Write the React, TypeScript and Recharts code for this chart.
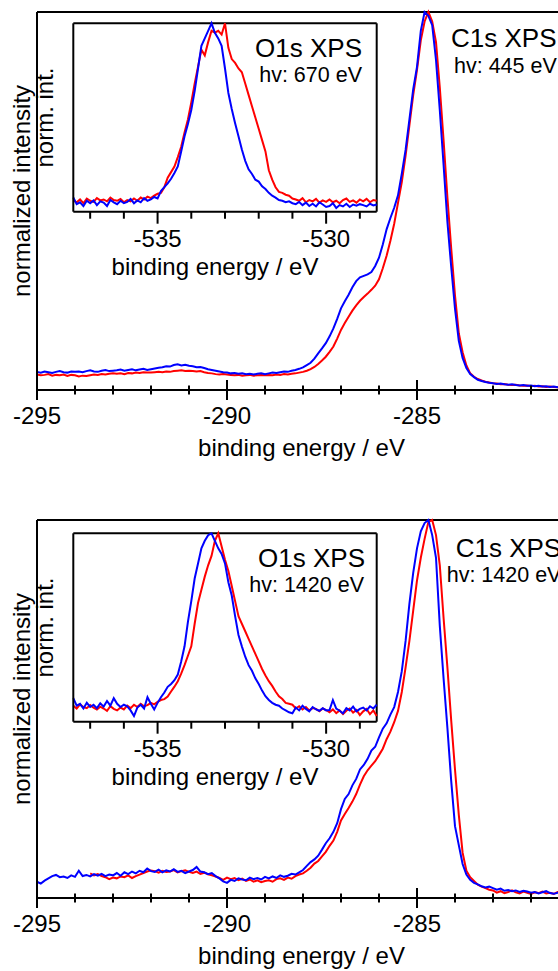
import React from "react";
import { LineChart, Line, XAxis, YAxis, ReferenceLine } from "recharts";

// C1s spectra, sampled every 0.1 eV starting at -295 eV
const C1S_START = -295;
const C1S_STEP = 0.1;
const C1S_TICKS = [-295, -294, -293, -292, -291, -290, -289, -288, -287, -286, -285, -284, -283, -282, -281];

const c1sTopRed = [
  0.041, 0.039, 0.040, 0.042, 0.038, 0.040, 0.039, 0.041, 0.037, 0.040, 0.039,
  0.036, 0.038, 0.037, 0.039, 0.041, 0.040, 0.042, 0.041, 0.043, 0.044,
  0.043, 0.044, 0.042, 0.045, 0.044, 0.046, 0.045, 0.047, 0.046, 0.046,
  0.047, 0.048, 0.047, 0.049, 0.048, 0.050, 0.051, 0.052, 0.050, 0.051,
  0.050, 0.049, 0.050, 0.047, 0.045, 0.044, 0.042, 0.041, 0.042, 0.041,
  0.040, 0.039, 0.040, 0.038, 0.039, 0.040, 0.038, 0.039, 0.040, 0.039,
  0.040, 0.039, 0.041, 0.040, 0.042, 0.041, 0.043, 0.044, 0.046, 0.048,
  0.051, 0.055, 0.061, 0.069, 0.078, 0.088, 0.101, 0.115, 0.136, 0.159,
  0.177, 0.194, 0.210, 0.224, 0.236, 0.246, 0.255, 0.265, 0.276, 0.293,
  0.322, 0.355, 0.395, 0.440, 0.495, 0.550, 0.620, 0.700, 0.780, 0.847,
  0.925, 0.975, 1.000, 0.975, 0.920, 0.800, 0.660, 0.510, 0.375, 0.250,
  0.150, 0.100, 0.065, 0.044, 0.035, 0.029, 0.025, 0.022, 0.020, 0.018,
  0.017, 0.015, 0.016, 0.014, 0.013, 0.014, 0.012, 0.011, 0.012, 0.010,
  0.011, 0.009, 0.010, 0.008, 0.009, 0.008, 0.007, 0.009, 0.008, 0.007,
];

const c1sTopBlue = [
  0.048, 0.046, 0.049, 0.047, 0.045, 0.048, 0.050, 0.047, 0.046, 0.049, 0.048,
  0.049, 0.047, 0.050, 0.052, 0.049, 0.048, 0.051, 0.053, 0.050, 0.051,
  0.052, 0.054, 0.051, 0.053, 0.055, 0.052, 0.054, 0.056, 0.053, 0.055,
  0.057, 0.059, 0.060, 0.063, 0.062, 0.066, 0.068, 0.065, 0.067, 0.064,
  0.063, 0.060, 0.061, 0.058, 0.055, 0.053, 0.051, 0.049, 0.047, 0.046,
  0.044, 0.045, 0.043, 0.044, 0.042, 0.043, 0.041, 0.043, 0.044, 0.042,
  0.044, 0.046, 0.045, 0.047, 0.049, 0.048, 0.051, 0.053, 0.056, 0.060,
  0.066, 0.072, 0.083, 0.097, 0.110, 0.124, 0.142, 0.163, 0.188, 0.216,
  0.235, 0.252, 0.272, 0.288, 0.298, 0.302, 0.306, 0.312, 0.328, 0.350,
  0.385, 0.425, 0.455, 0.482, 0.515, 0.572, 0.635, 0.715, 0.795, 0.855,
  0.950, 1.000, 0.990, 0.965, 0.873, 0.740, 0.595, 0.445, 0.326, 0.215,
  0.130, 0.085, 0.058, 0.042, 0.034, 0.027, 0.024, 0.021, 0.019, 0.018,
  0.016, 0.017, 0.015, 0.014, 0.015, 0.013, 0.012, 0.013, 0.011, 0.012,
  0.010, 0.011, 0.009, 0.010, 0.008, 0.009, 0.007, 0.008, 0.007, 0.008,
];

const c1sBottomRed = [
  null, null, null, null, null, null, null, null, null, null, null,
  null, null, null, 0.065, 0.060, 0.063, 0.058, 0.055, 0.050, 0.054,
  0.052, 0.057, 0.055, 0.060, 0.053, 0.058, 0.062, 0.066, 0.070, 0.073,
  0.071, 0.067, 0.072, 0.069, 0.070, 0.074, 0.068, 0.071, 0.073, 0.069,
  0.066, 0.070, 0.064, 0.067, 0.063, 0.060, 0.057, 0.053, 0.048, 0.054,
  0.050, 0.053, 0.047, 0.051, 0.045, 0.049, 0.043, 0.047, 0.042, 0.045,
  0.047, 0.043, 0.050, 0.052, 0.048, 0.054, 0.051, 0.058, 0.062, 0.065,
  0.072, 0.080, 0.091, 0.098, 0.110, 0.122, 0.138, 0.152, 0.175, 0.205,
  0.222, 0.238, 0.255, 0.275, 0.300, 0.322, 0.338, 0.350, 0.362, 0.378,
  0.395, 0.420, 0.440, 0.465, 0.495, 0.545, 0.610, 0.680, 0.760, 0.840,
  0.900, 0.950, 0.995, 1.000, 0.960, 0.880, 0.740, 0.610, 0.470, 0.340,
  0.220, 0.120, 0.072, 0.055, 0.045, 0.035, 0.030, 0.026, 0.022, 0.020,
  0.014, 0.018, 0.013, 0.016, 0.020, 0.015, 0.012, 0.017, 0.014, 0.011,
  0.015, 0.013, 0.017, 0.012, 0.014, 0.011, 0.016, 0.013, 0.010, 0.014,
];

const c1sBottomBlue = [
  0.043, 0.038, 0.046, 0.052, 0.058, 0.061, 0.055, 0.057, 0.053, 0.060, 0.056,
  0.072, 0.058, 0.061, 0.057, 0.063, 0.059, 0.064, 0.058, 0.062, 0.060,
  0.066, 0.059, 0.068, 0.063, 0.070, 0.065, 0.072, 0.068, 0.078, 0.071,
  0.069, 0.075, 0.068, 0.073, 0.070, 0.076, 0.069, 0.072, 0.066, 0.070,
  0.074, 0.082, 0.070, 0.068, 0.063, 0.066, 0.058, 0.052, 0.044, 0.040,
  0.048, 0.045, 0.052, 0.049, 0.047, 0.054, 0.050, 0.053, 0.049, 0.056,
  0.052, 0.057, 0.053, 0.060, 0.056, 0.059, 0.064, 0.062, 0.068, 0.074,
  0.085, 0.095, 0.102, 0.112, 0.128, 0.145, 0.158, 0.175, 0.198, 0.235,
  0.262, 0.275, 0.298, 0.315, 0.340, 0.352, 0.368, 0.390, 0.400, 0.425,
  0.448, 0.462, 0.485, 0.505, 0.545, 0.600, 0.680, 0.778, 0.860, 0.925,
  0.970, 0.992, 1.000, 0.960, 0.900, 0.720, 0.580, 0.450, 0.310, 0.190,
  0.140, 0.090, 0.062, 0.048, 0.040, 0.036, 0.031, 0.028, 0.030, 0.026,
  0.022, 0.025, 0.019, 0.021, 0.018, 0.020, 0.016, 0.019, 0.017, 0.014,
  0.016, 0.012, 0.015, 0.018, 0.013, 0.011, 0.014, 0.012, 0.016, 0.013,
];

// O1s insets, sampled every 0.1 eV starting at -537.5 eV
const O1S_START = -537.5;
const O1S_STEP = 0.1;
const O1S_TICKS = [-537, -536, -535, -534, -533, -532, -531, -530, -529];

const o1sTopRed = [
  0.060, 0.050, 0.065, 0.045, 0.070, 0.058,
  0.052, 0.072, 0.060, 0.065, 0.055, 0.075, 0.062, 0.058, 0.068, 0.050,
  0.062, 0.055, 0.070, 0.058, 0.075, 0.065, 0.080, 0.072, 0.085, 0.095,
  0.100, 0.130, 0.180, 0.210, 0.240, 0.290, 0.345, 0.420, 0.490, 0.580,
  0.680, 0.770, 0.860, 0.830, 0.900, 0.960, 0.950, 0.960, 0.940, 1.000,
  0.870, 0.810, 0.790, 0.760, 0.740, 0.680, 0.620, 0.560, 0.500, 0.440,
  0.380, 0.320, 0.220, 0.170, 0.130, 0.105, 0.100, 0.090, 0.085, 0.070,
  0.065, 0.058, 0.072, 0.050, 0.062, 0.055, 0.068, 0.048, 0.060, 0.052,
  0.065, 0.050, 0.058, 0.045, 0.062, 0.070, 0.052, 0.060, 0.048, 0.065,
  0.055, 0.068, 0.050, 0.062, 0.058,
];

const o1sTopBlue = [
  0.075, 0.040, 0.050, 0.030, 0.058, 0.045,
  0.060, 0.035, 0.055, 0.048, 0.030, 0.062, 0.050, 0.040, 0.058, 0.045,
  0.052, 0.068, 0.045, 0.060, 0.050, 0.072, 0.058, 0.065, 0.078, 0.070,
  0.110, 0.130, 0.150, 0.175, 0.205, 0.240, 0.320, 0.400, 0.465, 0.540,
  0.640, 0.760, 0.880, 0.920, 0.960, 1.000, 0.950, 0.920, 0.880, 0.760,
  0.630, 0.545, 0.470, 0.400, 0.330, 0.270, 0.225, 0.200, 0.170, 0.160,
  0.135, 0.120, 0.100, 0.085, 0.075, 0.062, 0.058, 0.050, 0.055, 0.045,
  0.040, 0.052, 0.035, 0.048, 0.030, 0.042, 0.028, 0.050, 0.038, 0.025,
  0.030, 0.045, 0.020, 0.035, 0.028, 0.042, 0.025, 0.038, 0.032, 0.040,
  0.035, 0.028, 0.042, 0.033, 0.038,
];

const o1sBottomRed = [
  0.085, 0.070, 0.092, 0.078, 0.072, 0.088,
  0.075, 0.065, 0.080, 0.070, 0.058, 0.082, 0.068, 0.060, 0.075, 0.065,
  0.085, 0.072, 0.090, 0.078, 0.095, 0.082, 0.088, 0.100, 0.092, 0.105,
  0.115, 0.120, 0.133, 0.160, 0.186, 0.215, 0.255, 0.300, 0.350, 0.400,
  0.520, 0.630, 0.700, 0.770, 0.830, 0.880, 0.960, 1.000, 0.930, 0.860,
  0.800, 0.720, 0.640, 0.560, 0.520, 0.480, 0.440, 0.400, 0.360, 0.320,
  0.280, 0.245, 0.215, 0.190, 0.160, 0.135, 0.120, 0.100, 0.095, 0.090,
  0.070, 0.082, 0.065, 0.078, 0.060, 0.072, 0.068, 0.055, 0.070, 0.062,
  0.050, 0.065, 0.045, 0.060, 0.040, 0.058, 0.070, 0.048, 0.062, 0.035,
  0.055, 0.068, 0.040, 0.060, 0.030,
];

const o1sBottomBlue = [
  0.125, 0.085, 0.095, 0.070, 0.100, 0.078,
  0.090, 0.072, 0.098, 0.080, 0.110, 0.085, 0.125, 0.095, 0.078, 0.090,
  0.082, 0.060, 0.030, 0.075, 0.090, 0.070, 0.130, 0.095, 0.065, 0.100,
  0.130, 0.155, 0.185, 0.200, 0.220, 0.250, 0.320, 0.400, 0.530, 0.640,
  0.760, 0.840, 0.920, 0.960, 0.990, 1.000, 0.960, 0.920, 0.890, 0.840,
  0.740, 0.670, 0.560, 0.460, 0.400, 0.345, 0.300, 0.270, 0.230, 0.200,
  0.165, 0.135, 0.115, 0.100, 0.090, 0.085, 0.070, 0.060, 0.050, 0.045,
  0.075, 0.060, 0.085, 0.068, 0.055, 0.078, 0.065, 0.058, 0.072, 0.060,
  0.062, 0.115, 0.070, 0.058, 0.045, 0.072, 0.060, 0.080, 0.055, 0.068,
  0.075, 0.060, 0.082, 0.070, 0.090,
];

const RED = "#ff0000";
const BLUE = "#0000ff";
const FONT = "'Liberation Sans', Arial, sans-serif";

function toRows(start: number, step: number, red: (number | null)[], blue: number[]) {
  return blue.map((b, i) => ({ e: +(start + i * step).toFixed(2), red: red[i], blue: b }));
}

function MainTick(props: any) {
  const { x, y, payload } = props;
  const major = payload.value % 5 === 0;
  const h = major ? 10 : 4.5;
  return (
    <g>
      <line x1={x} x2={x} y1={y - h} y2={y + h} stroke="#000" strokeWidth={2} />
      {major && (
        <text x={x} y={y + 33.5} textAnchor="middle" fontSize={24} fontFamily={FONT} fill="#000">
          {payload.value}
        </text>
      )}
    </g>
  );
}

function InsetTick(props: any) {
  const { x, y, payload } = props;
  const major = payload.value % 5 === 0;
  return (
    <g>
      <line x1={x} x2={x} y1={y} y2={y + (major ? 12 : 7)} stroke="#000" strokeWidth={2} />
      {major && (
        <text x={x} y={y + 35.6} textAnchor="middle" fontSize={24} fontFamily={FONT} fill="#000">
          {payload.value}
        </text>
      )}
    </g>
  );
}

interface MainProps {
  red: (number | null)[];
  blue: number[];
  hv: string;
  titleX: number;
  titleY: number;
  hvX: number;
  hvY: number;
}

function MainPanel({ red, blue, hv, titleX, titleY, hvX, hvY }: MainProps) {
  const data = toRows(C1S_START, C1S_STEP, red, blue);
  return (
    <LineChart width={640} height={480} data={data} margin={{ top: 12, right: 33, left: 27, bottom: 30 }}>
      <XAxis
        dataKey="e"
        type="number"
        domain={[-295, -280]}
        ticks={C1S_TICKS}
        interval={0}
        height={60}
        tickSize={0}
        tickMargin={0}
        tickLine={false}
        tick={<MainTick />}
        axisLine={{ stroke: "#000", strokeWidth: 2 }}
      />
      <YAxis domain={[0, 1]} width={10} tick={false} tickLine={false} axisLine={{ stroke: "#000", strokeWidth: 2 }} />
      <ReferenceLine y={1} stroke="#000" strokeWidth={2} />
      <Line type="linear" dataKey="red" stroke={RED} strokeWidth={2} dot={false} isAnimationActive={false} />
      <Line type="linear" dataKey="blue" stroke={BLUE} strokeWidth={2} dot={false} isAnimationActive={false} />
      <text x={30} y={191} transform="rotate(-90, 30, 191)" textAnchor="middle" fontSize={24} fontFamily={FONT} fill="#000">
        normalized intensity
      </text>
      <text x={301.5} y={455.5} textAnchor="middle" fontSize={24} fontFamily={FONT} fill="#000">
        binding energy / eV
      </text>
      <text x={titleX} y={titleY} fontSize={26} fontFamily={FONT} fill="#000">
        C1s XPS
      </text>
      <text x={hvX} y={hvY} fontSize={21.5} fontFamily={FONT} fill="#000">
        {hv}
      </text>
    </LineChart>
  );
}

interface InsetProps {
  red: number[];
  blue: number[];
  hv: string;
  titleEnd: number;
  hvEnd: number;
}

function InsetPanel({ red, blue, hv, titleEnd, hvEnd }: InsetProps) {
  const data = toRows(O1S_START, O1S_STEP, red, blue);
  return (
    <LineChart width={420} height={300} data={data} margin={{ top: 23.3, right: 43.3, left: 63.3, bottom: 48.3 }}>
      <XAxis
        dataKey="e"
        type="number"
        domain={[-537.5, -528.5]}
        ticks={O1S_TICKS}
        interval={0}
        height={40}
        tickSize={0}
        tickMargin={0}
        tickLine={false}
        tick={<InsetTick />}
        axisLine={{ stroke: "#000", strokeWidth: 2 }}
      />
      <YAxis domain={[0, 1]} width={10} tick={false} tickLine={false} axisLine={{ stroke: "#000", strokeWidth: 2 }} />
      <ReferenceLine y={1} stroke="#000" strokeWidth={2} />
      <ReferenceLine x={-528.5} stroke="#000" strokeWidth={2} />
      <Line type="linear" dataKey="red" stroke={RED} strokeWidth={2} dot={false} isAnimationActive={false} />
      <Line type="linear" dataKey="blue" stroke={BLUE} strokeWidth={2} dot={false} isAnimationActive={false} />
      <text x={53.3} y={117.5} transform="rotate(-90, 53.3, 117.5)" textAnchor="middle" fontSize={24} fontFamily={FONT} fill="#000">
        norm. int.
      </text>
      <text x={215} y={275} textAnchor="middle" fontSize={24} fontFamily={FONT} fill="#000">
        binding energy / eV
      </text>
      <text x={titleEnd} y={57} textAnchor="end" fontSize={26} fontFamily={FONT} fill="#000">
        O1s XPS
      </text>
      <text x={hvEnd} y={81.7} textAnchor="end" fontSize={21.5} fontFamily={FONT} fill="#000">
        {hv}
      </text>
    </LineChart>
  );
}

export default function App() {
  return (
    <div
      style={{
        position: "fixed",
        left: 0,
        top: 0,
        width: 558,
        height: 971,
        overflow: "hidden",
        background: "#fff",
        fontFamily: FONT,
      }}
    >
      <div style={{ position: "absolute", left: 0, top: 0 }}>
        <MainPanel red={c1sTopRed} blue={c1sTopBlue} hv="hv: 445 eV" titleX={451} titleY={47} hvX={454} hvY={73} />
      </div>
      <div style={{ position: "absolute", left: 0, top: 0 }}>
        <InsetPanel red={o1sTopRed} blue={o1sTopBlue} hv="hv: 670 eV" titleEnd={362} hvEnd={362} />
      </div>
      <div style={{ position: "absolute", left: 0, top: 508 }}>
        <MainPanel red={c1sBottomRed} blue={c1sBottomBlue} hv="hv: 1420 eV" titleX={455.7} titleY={49} hvX={446.7} hvY={74} />
      </div>
      <div style={{ position: "absolute", left: 0, top: 510 }}>
        <InsetPanel red={o1sBottomRed} blue={o1sBottomBlue} hv="hv: 1420 eV" titleEnd={365} hvEnd={364} />
      </div>
    </div>
  );
}
